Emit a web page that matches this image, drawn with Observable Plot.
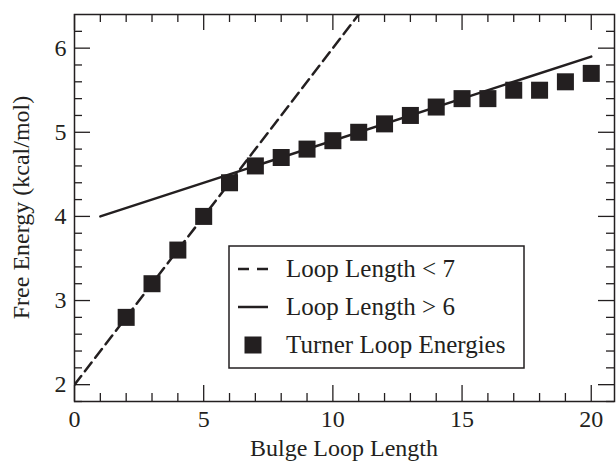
<!DOCTYPE html>
<html>
<head>
<meta charset="utf-8">
<script src="https://cdn.jsdelivr.net/npm/d3@7"></script>
<script src="https://cdn.jsdelivr.net/npm/@observablehq/plot@0.6"></script>
<style>
  html, body { margin: 0; padding: 0; background: #fff; }
  #chart { position: relative; width: 616px; height: 463px; }
  #chart svg text { font-family: 'Liberation Serif', 'Times New Roman', serif; }
</style>
</head>
<body>
<div id="chart"></div>
<script>
// ---- data ----
const bulgeLength = [2, 3, 4, 5, 6, 7, 8, 9, 10, 11, 12, 13, 14, 15, 16, 17, 18, 19, 20];
const turnerEnergy = [2.8, 3.2, 3.6, 4.0, 4.4, 4.6, 4.7, 4.8, 4.9, 5.0, 5.1, 5.2, 5.3, 5.4, 5.4, 5.5, 5.5, 5.6, 5.7];
const shortFitX = [0, 11];
const shortFitY = [2.0, 6.4];
const longFitX = [1, 20];
const longFitY = [4.0, 5.9];
const xTickLabels = [0, 5, 10, 15, 20];
const yTickLabels = [2, 3, 4, 5, 6];
const xMinor = [1, 2, 3, 4, 6, 7, 8, 9, 11, 12, 13, 14, 16, 17, 18, 19];
const yMinor = [1.8, 2.2, 2.4, 2.6, 2.8, 3.2, 3.4, 3.6, 3.8, 4.2, 4.4, 4.6, 4.8, 5.2, 5.4, 5.6, 5.8, 6.2];
const legendLabels = ["Loop Length < 7", "Loop Length > 6", "Turner Loop Energies"];
const xTitle = "Bulge Loop Length";
const yTitle = "Free Energy (kcal/mol)";

const turner = bulgeLength.map((x, i) => ({x, y: turnerEnergy[i]}));
const shortFit = shortFitX.map((x, i) => ({x, y: shortFitY[i]}));
const longFit = longFitX.map((x, i) => ({x, y: longFitY[i]}));

const ink = "#231f20";
const W = 616, H = 463;
const mL = 74, mR = 2, mT = 14, mB = 62;
const frameH = H - mT - mB;
const frameW = W - mL - mR;
const FONT = "'Liberation Serif', 'Times New Roman', serif";

const plot = Plot.plot({
  width: W,
  height: H,
  marginLeft: mL,
  marginRight: mR,
  marginTop: mT,
  marginBottom: mB,
  style: "font-family: 'Liberation Serif', 'Times New Roman', serif; font-size: 24px; color: #231f20; background: white; overflow: visible;",
  x: {domain: [0, 20.9]},
  y: {domain: [1.8, 6.4]},
  marks: [
    // tick labels
    Plot.axisX({ticks: xTickLabels, tickFormat: d => String(d), tickSize: 0, tickPadding: 8, label: null, fontSize: 24, fontFamily: FONT, fill: ink}),
    Plot.axisY({ticks: yTickLabels, tickFormat: d => String(d), tickSize: 0, tickPadding: 8, label: null, fontSize: 24, fontFamily: FONT, fill: ink}),
    // inward ticks: bottom & top (x)
    Plot.ruleX(xTickLabels, {x: d => d, insetTop: frameH - 16, stroke: ink, strokeWidth: 1.3}),
    Plot.ruleX(xTickLabels, {x: d => d, insetBottom: frameH - 16, stroke: ink, strokeWidth: 1.3}),
    Plot.ruleX(xMinor, {x: d => d, insetTop: frameH - 8, stroke: ink, strokeWidth: 1.3}),
    Plot.ruleX(xMinor, {x: d => d, insetBottom: frameH - 8, stroke: ink, strokeWidth: 1.3}),
    // inward ticks: left & right (y)
    Plot.ruleY(yTickLabels, {y: d => d, insetRight: frameW - 16, stroke: ink, strokeWidth: 1.3}),
    Plot.ruleY(yTickLabels, {y: d => d, insetLeft: frameW - 16, stroke: ink, strokeWidth: 1.3}),
    Plot.ruleY(yMinor, {y: d => d, insetRight: frameW - 8, stroke: ink, strokeWidth: 1.3}),
    Plot.ruleY(yMinor, {y: d => d, insetLeft: frameW - 8, stroke: ink, strokeWidth: 1.3}),
    // fits
    Plot.line(shortFit, {x: "x", y: "y", stroke: ink, strokeWidth: 2.5, strokeDasharray: "11,6", clip: true}),
    Plot.line(longFit, {x: "x", y: "y", stroke: ink, strokeWidth: 2.5, clip: true}),
    // data
    Plot.dot(turner, {x: "x", y: "y", symbol: "square", r: 9.6, fill: ink, stroke: "none"}),
    Plot.frame({stroke: ink, strokeWidth: 1.5})
  ]
});

document.getElementById("chart").appendChild(plot);

// axis titles and legend, drawn into the same SVG
const svg = d3.select(plot);
svg.append("text")
  .attr("x", mL + frameW / 2).attr("y", 456)
  .attr("text-anchor", "middle")
  .attr("font-family", FONT).attr("font-size", 24).attr("fill", ink)
  .text(xTitle);
svg.append("text")
  .attr("transform", `translate(29,${mT + frameH / 2}) rotate(-90)`)
  .attr("text-anchor", "middle")
  .attr("font-family", FONT).attr("font-size", 24).attr("fill", ink)
  .text(yTitle);

const lg = svg.append("g").attr("transform", "translate(229,246)");
lg.append("rect").attr("x", 0).attr("y", 0).attr("width", 295).attr("height", 122)
  .attr("fill", "white").attr("stroke", ink).attr("stroke-width", 1.5);
const rowBase = [31, 69, 107];
legendLabels.forEach((t, i) => {
  lg.append("text").attr("x", 57).attr("y", rowBase[i])
    .attr("text-anchor", "start")
    .attr("font-family", FONT).attr("font-size", 25).attr("fill", ink).text(t);
});
lg.append("line").attr("x1", 9).attr("x2", 39).attr("y1", 23).attr("y2", 23)
  .attr("stroke", ink).attr("stroke-width", 2.5).attr("stroke-dasharray", "11,8");
lg.append("line").attr("x1", 9).attr("x2", 39).attr("y1", 61).attr("y2", 61)
  .attr("stroke", ink).attr("stroke-width", 2.5);
lg.append("rect").attr("x", 24 - 8.5).attr("y", 99 - 8.5).attr("width", 17).attr("height", 17).attr("fill", ink);
</script>
</body>
</html>
